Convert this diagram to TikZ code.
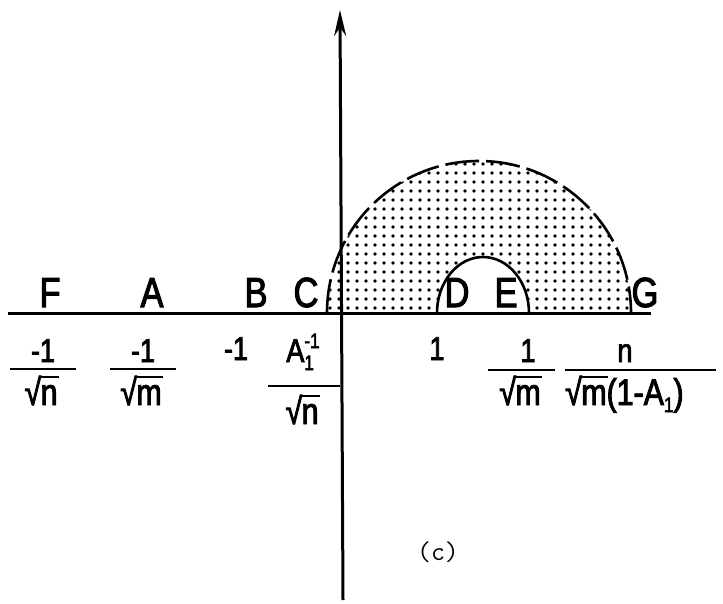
\documentclass[tikz,border=0pt]{standalone}
\usepackage{fontspec}
\newfontfamily\lab[FakeStretch=0.82,FakeBold=2.5]{Liberation Sans}
\usetikzlibrary{arrows.meta}
\newcommand\rt[1]{{\setbox1\hbox{√}\setbox0\hbox{#1}\copy1\kern-0.5pt\rlap{\raisebox{\dimexpr\ht1-0.06em\relax}{\rule{\dimexpr\wd0+1pt\relax}{0.06em}}}\box0}}
\newcommand\smallnum[1]{{\fontsize{21}{21}\selectfont #1}}
\begin{document}
\begin{tikzpicture}[x=1pt,y=-1pt,
  axis/.style={line width=3pt},
  fracbar/.style={line width=2.6pt},
  bigarc/.style={line width=2.6pt, dash pattern=on 34pt off 7pt},
  smallarc/.style={line width=2.6pt},
  toplab/.style={font=\lab\fontsize{42}{44}\selectfont, inner sep=0pt, anchor=base},
  lowlab/.style={font=\lab\fontsize{33}{35}\selectfont, inner sep=0pt, anchor=base},
  denlab/.style={font=\lab\fontsize{37}{39}\selectfont, inner sep=0pt, anchor=base},
  caplab/.style={font=\ttfamily\fontsize{27}{29}\selectfont, inner sep=0pt}]
\useasboundingbox (0,0) rectangle (723,604);
% key points
\coordinate (O) at (341,313);
\coordinate (hl) at (8,313);
\coordinate (hr) at (651,313);
\coordinate (vbot) at (343,600);
\coordinate (vtop) at (340,10);
% dotted region
\begin{scope}
  \clip (327,313) arc[start angle=180, end angle=360, radius=152] -- cycle;
  \foreach \i in {0,...,34}
    \foreach \j in {0,...,17}
      \fill ({330+\i*9},{308-\j*9}) circle[radius=1.8pt];
\end{scope}
\fill[white] (437,313) arc[start angle=180, end angle=360, x radius=46, y radius=56] -- cycle;
% arcs
\draw[bigarc] (327,313) arc[start angle=180, end angle=360, radius=152];
\draw[smallarc] (437,313) arc[start angle=180, end angle=360, x radius=46, y radius=56];
% axes
\draw[axis] (hl) -- (hr);
\draw[axis, -{Stealth[length=26pt, width=12pt]}] (vbot) -- (vtop);
% letters on the axis
\node[toplab] (F) at (50,307) {F};
\node[toplab] (A) at (152,307) {A};
\node[toplab] (B) at (256,307) {B};
\node[toplab] (C) at (306,307) {C};
\node[toplab] (D) at (457,307) {D};
\node[toplab] (E) at (506,307) {E};
\node[toplab] (G) at (645,307) {G};
% values below the axis
\node[lowlab] (nF) at (43,362) {-1};
\draw[fracbar] (10,369) -- (76,369);
\node[denlab] (dF) at (41,405) {\rt{n}};
\node[lowlab] (nA) at (143,362) {-1};
\draw[fracbar] (110,369) -- (176,369);
\node[denlab] (dA) at (141,405) {\rt{m}};
\node[lowlab] (vB) at (236,360) {-1};
\node[lowlab] (nC) at (303,362) {A\rlap{\raisebox{-8pt}{\smallnum{1}}}\raisebox{14pt}{\smallnum{-1}}};
\draw[fracbar] (268,386) -- (340,386);
\node[denlab] (dC) at (302,424) {\rt{n}};
\node[lowlab] (vD) at (437,360) {1};
\node[lowlab] (nE) at (528,362) {1};
\draw[fracbar] (488,370) -- (555,370);
\node[denlab] (dE) at (520,405) {\rt{m}};
\node[lowlab] (nG) at (625,362) {n};
\draw[fracbar] (565,370) -- (716,370);
\node[denlab, anchor=base west] (dG) at (565,405) {\rt{m}(1-A\raisebox{-7pt}{\smallnum{1}})};
% caption
\node[caplab] (cap) at (438,552) {(c)};
\end{tikzpicture}
\end{document}
